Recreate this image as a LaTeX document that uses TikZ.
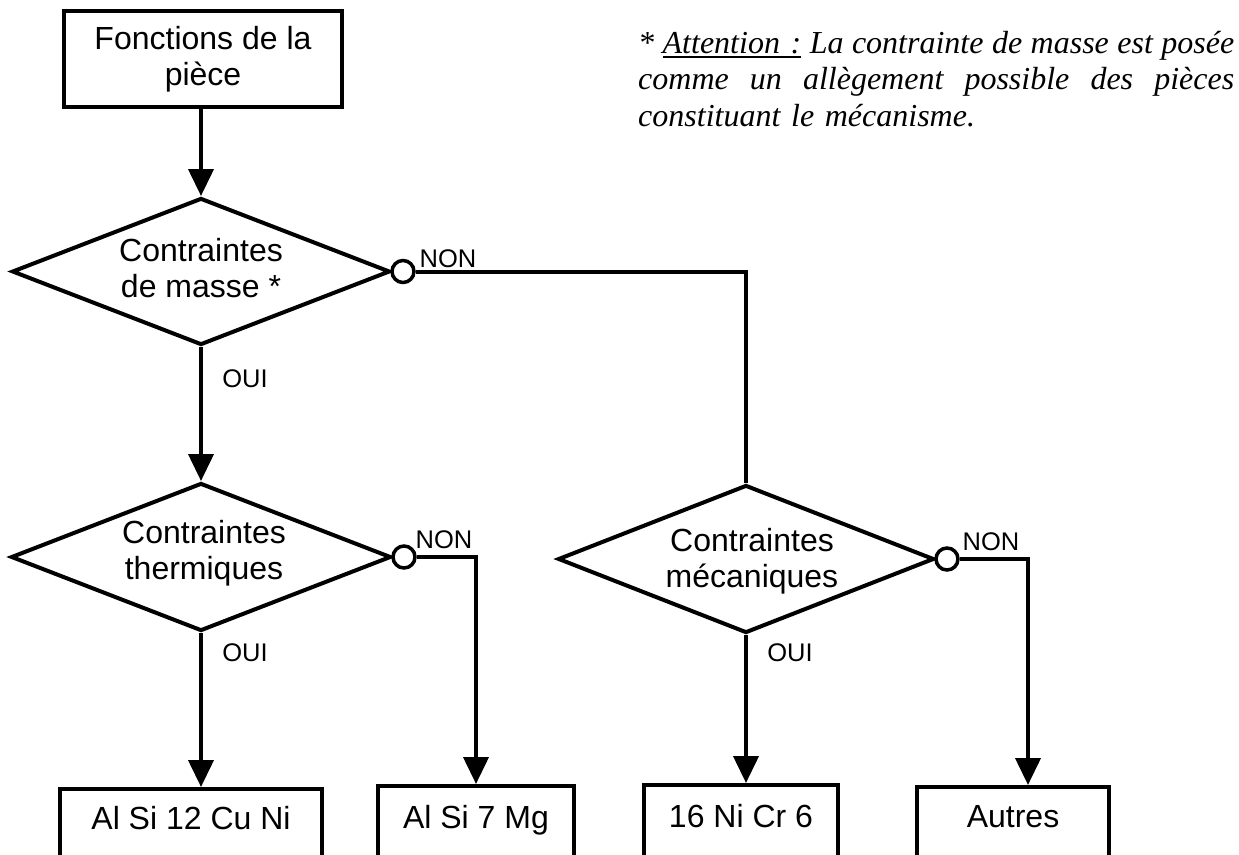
\documentclass[tikz,border=0pt]{standalone}
\usepackage{fontspec}
\setmainfont{Liberation Sans}
\newfontfamily\notefont{Liberation Serif}
\usetikzlibrary{shapes.geometric,arrows.meta}
\newcommand{\myul}[1]{\leavevmode\setbox0=\hbox{#1}\rlap{\rule[-5pt]{\wd0}{2.4pt}}\box0\relax}
\newcommand{\jsp}{\hspace{0.25em plus 1fil}}
\newcommand{\jline}[1]{\leavevmode\hbox to 596pt{#1}}
\begin{document}
\begin{tikzpicture}[x=1pt,y=-1pt,
  flow/.style={line width=4pt},
  boxshape/.style={draw,line width=4pt,rectangle,inner sep=0pt,minimum height=130pt},
  decision/.style={draw,line width=4pt,diamond,inner sep=0pt},
  junction/.style={draw,line width=3.5pt,circle,inner sep=0pt,minimum size=22pt,fill=white},
  bigtxt/.style={font=\fontsize{32}{36}\selectfont,align=center,inner sep=0pt},
  smalltxt/.style={font=\fontsize{25.5}{29}\selectfont,inner sep=0pt,anchor=base},
  arr/.style={-{Triangle[width=25pt,length=27pt]}}
]
\useasboundingbox (0,0) rectangle (1239,854);
\fill[white] (0,0) rectangle (1239,854);
\clip (0,0) rectangle (1239,854);

% top box
\node[draw,line width=4pt,rectangle,inner sep=0pt,minimum width=278pt,minimum height=96pt,bigtxt] (top) at (203,59) {Fonctions de la\\pièce};

% decisions
\node[decision,minimum width=378pt,minimum height=147pt] (d1) at (201,271.5) {};
\node[bigtxt] (t1) at (201,268) {Contraintes\\de masse *};
\node[decision,minimum width=380pt,minimum height=148pt] (d2) at (201,557) {};
\node[bigtxt] (t2) at (204,553) {Contraintes\\thermiques};
\node[decision,minimum width=376pt,minimum height=148pt] (d3) at (746,559) {};
\node[bigtxt] (t3) at (752,561.5) {Contraintes\\mécaniques};

% junction circles
\node[junction] (c1) at (403,271.5) {};
\node[junction] (c2) at (404,557) {};
\node[junction] (c3) at (947,559) {};

% result boxes
\node[boxshape,minimum width=262pt] (b1) at (191,854) {};
\node[boxshape,minimum width=196pt] (b2) at (476,851) {};
\node[boxshape,minimum width=194pt] (b3) at (741,850) {};
\node[boxshape,minimum width=192pt] (b4) at (1013,852) {};
\node[bigtxt,anchor=base] (l1) at (191,829) {Al Si 12 Cu Ni};
\node[bigtxt,anchor=base] (l2) at (476,828) {Al Si 7 Mg};
\node[bigtxt,anchor=base] (l3) at (741,827) {16 Ni Cr 6};
\node[bigtxt,anchor=base] (l4) at (1013,827) {Autres};

% labels
\node[smalltxt] (n1) at (448,267) {NON};
\node[smalltxt] (n2) at (444,548) {NON};
\node[smalltxt] (n3) at (991,550) {NON};
\node[smalltxt] (o1) at (245,387) {OUI};
\node[smalltxt] (o2) at (245,661) {OUI};
\node[smalltxt] (o3) at (790,661) {OUI};

\coordinate (k4) at (1028,0);

% connectors
\draw[flow,arr] (top.south -| d1.north) -- (d1.north);
\draw[flow,arr] (d1.south) -- (d2.north);
\draw[flow,arr] (d2.south) -- (d2.south |- b1.north);
\draw[flow,arr] (c2.east) -| (b2.north);
\draw[flow] (c1.east) -- (c1.east -| d3.north) -- (d3.north);
\draw[flow,arr] (d3.south) -- (d3.south |- b3.north);
\draw[flow,arr] (c3.east) -| (k4 |- b4.north);

% note
\node[anchor=north west,inner sep=0pt,text width=596pt,align=left,
      font=\notefont\itshape\fontsize{32}{36.5}\selectfont] (note) at (638,31)
  {\jline{*\jsp\myul{Attention :}\jsp La\jsp contrainte\jsp de\jsp masse\jsp est\jsp posée}\\
   \jline{comme\jsp un\jsp allègement\jsp possible\jsp des\jsp pièces}\\
   constituant le mécanisme.};
\end{tikzpicture}
\end{document}
